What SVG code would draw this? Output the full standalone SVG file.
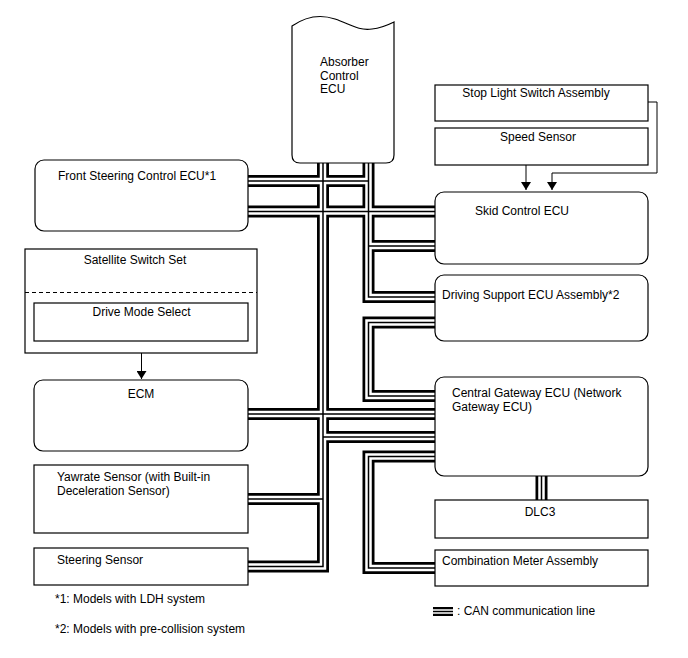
<svg xmlns="http://www.w3.org/2000/svg" xmlns:xlink="http://www.w3.org/1999/xlink" width="688" height="658" viewBox="0 0 688 658">
<style>
text{font-family:"Liberation Sans",Arial,sans-serif;font-size:12px;fill:#000}
.box{fill:#fff;stroke:#000;stroke-width:1.2}
.c{text-anchor:middle}
.bo{fill:none;stroke:#000;stroke-width:12;stroke-linejoin:miter}
.bw{fill:none;stroke:#fff;stroke-width:6.5;stroke-linejoin:miter}
.bm{fill:none;stroke:#000;stroke-width:1.5;stroke-linejoin:miter}
.ar{fill:none;stroke:#000;stroke-width:1;marker-end:url(#ah)}
</style>
<defs>
<marker id="ah" viewBox="0 0 8 10" refX="8" refY="5" markerWidth="8" markerHeight="10" markerUnits="userSpaceOnUse" orient="auto">
<path d="M0,0 L8,5 L0,10 Z" fill="#000"/>
</marker>
<path id="p1" d="M323,160 V566.5 H240"/>
<path id="p2" d="M368.5,160 V297 H441"/>
<path id="p3" d="M240,181 H368.5"/>
<path id="p4" d="M240,211.5 H441"/>
<path id="p5" d="M368.5,246 H441"/>
<path id="p6" d="M441,322.5 H368.5 V396 H441"/>
<path id="p7" d="M240,414 H441"/>
<path id="p8" d="M323,437 H441"/>
<path id="p9" d="M441,456.5 H368.5 V568 H441"/>
<path id="p10" d="M240,499 H323"/>
<path id="p11" d="M541.5,470 V506"/>
<path id="pl" d="M433,611.5 H453"/>
</defs>
<g id="connectors">
<g class="bo"><use xlink:href="#p1"/><use xlink:href="#p2"/><use xlink:href="#p3"/><use xlink:href="#p4"/><use xlink:href="#p5"/><use xlink:href="#p6"/><use xlink:href="#p7"/><use xlink:href="#p8"/><use xlink:href="#p9"/><use xlink:href="#p10"/><use xlink:href="#p11"/></g>
<g class="bw"><use xlink:href="#p1"/><use xlink:href="#p2"/><use xlink:href="#p3"/><use xlink:href="#p4"/><use xlink:href="#p5"/><use xlink:href="#p6"/><use xlink:href="#p7"/><use xlink:href="#p8"/><use xlink:href="#p9"/><use xlink:href="#p10"/><use xlink:href="#p11"/></g>
<g class="bm"><use xlink:href="#p1"/><use xlink:href="#p2"/><use xlink:href="#p3"/><use xlink:href="#p4"/><use xlink:href="#p5"/><use xlink:href="#p6"/><use xlink:href="#p7"/><use xlink:href="#p8"/><use xlink:href="#p9"/><use xlink:href="#p10"/><use xlink:href="#p11"/></g>
<path class="ar" d="M526,165 V190"/>
<path class="ar" d="M648,102 H657 V173 H552 V190"/>
<path class="ar" d="M141.5,341 V379"/>
</g>
<g id="absorber">
<path class="box" d="M292,26 C305,17 320,14 335,19 C350,24 358,31 372,29 C382,28 390,24 394,22 V155 Q394,163 386,163 H300 Q292,163 292,155 Z"/>
<text x="320" y="66">Absorber</text>
<text x="320" y="79.5">Control</text>
<text x="320" y="93">ECU</text>
</g>
<g id="front-steering">
<rect class="box" x="35" y="160" width="213" height="71" rx="9"/>
<text x="58" y="180">Front Steering Control ECU*1</text>
</g>
<g id="satellite">
<rect class="box" x="25" y="249" width="232" height="104"/>
<line x1="25" y1="292.5" x2="257" y2="292.5" stroke="#000" stroke-width="1.2" stroke-dasharray="4,3"/>
<text class="c" x="135" y="264">Satellite Switch Set</text>
</g>
<g id="drive-mode">
<rect class="box" x="34" y="303" width="214" height="38"/>
<text class="c" x="141.5" y="316">Drive Mode Select</text>
</g>
<g id="ecm">
<rect class="box" x="34" y="380" width="214" height="71" rx="9"/>
<text class="c" x="141" y="398">ECM</text>
</g>
<g id="yawrate">
<rect class="box" x="34" y="465" width="214" height="68"/>
<text x="57" y="481">Yawrate Sensor (with Built-in</text>
<text x="57" y="495">Deceleration Sensor)</text>
</g>
<g id="steering-sensor">
<rect class="box" x="34" y="548" width="214" height="37"/>
<text x="57" y="564">Steering Sensor</text>
</g>
<g id="stop-light">
<rect class="box" x="435" y="85" width="213" height="36"/>
<text class="c" x="536" y="97">Stop Light Switch Assembly</text>
</g>
<g id="speed-sensor">
<rect class="box" x="435" y="128" width="213" height="37"/>
<text class="c" x="538" y="141">Speed Sensor</text>
</g>
<g id="skid">
<rect class="box" x="435" y="192" width="213" height="72" rx="9"/>
<text x="475" y="215">Skid Control ECU</text>
</g>
<g id="driving-support">
<rect class="box" x="435" y="275" width="213" height="66" rx="9"/>
<text x="442" y="299">Driving Support ECU Assembly*2</text>
</g>
<g id="gateway">
<rect class="box" x="435" y="377" width="213" height="99" rx="9"/>
<text x="452" y="397">Central Gateway ECU (Network</text>
<text x="452" y="411">Gateway ECU)</text>
</g>
<g id="dlc3">
<rect class="box" x="435" y="500" width="213" height="38"/>
<text class="c" x="540" y="516">DLC3</text>
</g>
<g id="combination">
<rect class="box" x="435" y="550" width="213" height="36"/>
<text x="442" y="565">Combination Meter Assembly</text>
</g>
<g id="notes">
<text x="55" y="603">*1: Models with LDH system</text>
<text x="55" y="633">*2: Models with pre-collision system</text>
</g>
<g id="legend">
<use xlink:href="#pl" class="bo" style="stroke-width:9"/>
<use xlink:href="#pl" class="bw" style="stroke-width:4.5"/>
<use xlink:href="#pl" class="bm"/>
<text x="457" y="615">: CAN communication line</text>
</g>
</svg>
